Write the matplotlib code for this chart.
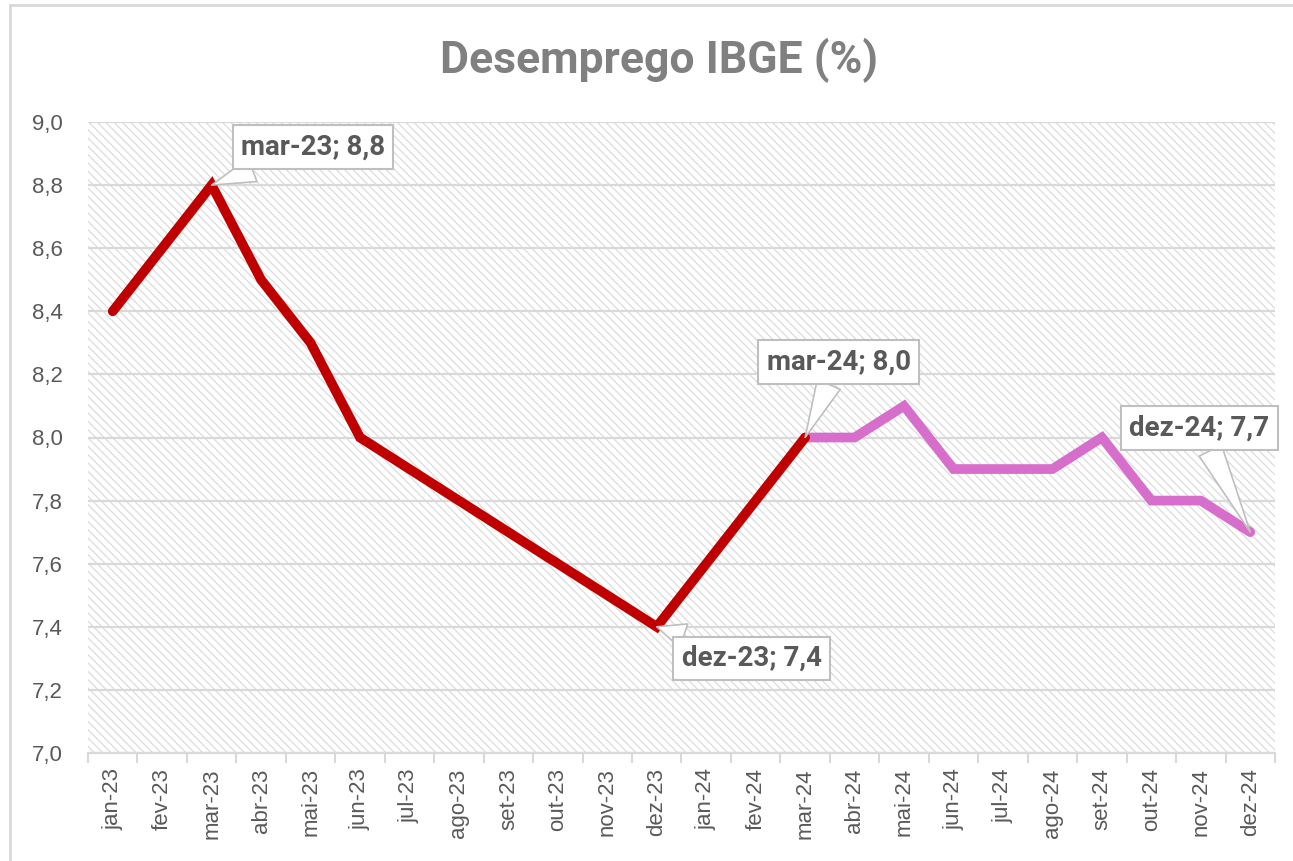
import matplotlib
matplotlib.use("Agg")
import matplotlib.pyplot as plt
from matplotlib.patches import Rectangle
from matplotlib.lines import Line2D

plt.rcParams['font.family'] = ['Liberation Sans', 'DejaVu Sans']
plt.rcParams['hatch.linewidth'] = 0.9

months = ["jan-23", "fev-23", "mar-23", "abr-23", "mai-23", "jun-23", "jul-23", "ago-23",
          "set-23", "out-23", "nov-23", "dez-23", "jan-24", "fev-24", "mar-24", "abr-24",
          "mai-24", "jun-24", "jul-24", "ago-24", "set-24", "out-24", "nov-24", "dez-24"]
values = [8.4, 8.6, 8.8, 8.5, 8.3, 8.0, 7.9, 7.8, 7.7, 7.6, 7.5, 7.4,
          7.6, 7.8, 8.0, 8.0, 8.1, 7.9, 7.9, 7.9, 8.0, 7.8, 7.8, 7.7]
split_idx = 14  # mar-24: red up to here, pink after
yticks = [7.0, 7.2, 7.4, 7.6, 7.8, 8.0, 8.2, 8.4, 8.6, 8.8, 9.0]
callouts = [("mar-23", 4.05, 8.92), ("dez-23", 12.92, 7.30),
            ("mar-24", 14.68, 8.24), ("dez-24", 21.97, 8.03)]

W, H = 1293, 861
fig = plt.figure(figsize=(W / 100, H / 100), dpi=100)
ax = fig.add_axes([88 / W, 1 - 753 / H, (1275 - 88) / W, (753 - 122) / H])

# hatched plot area
ax.add_patch(Rectangle((0, 0), 1, 1, transform=ax.transAxes, facecolor='white',
                       edgecolor='#dcdcdc', hatch='\\\\\\\\', linewidth=0, zorder=0))

x = list(range(len(months)))
red = '#C00000'
pink = '#D86ECC'
ax.plot(x[:split_idx + 1], values[:split_idx + 1], color=red, lw=7, zorder=3,
        solid_joinstyle='miter', solid_capstyle='round')
ax.plot(x[split_idx:], values[split_idx:], color=pink, lw=7, zorder=2,
        solid_joinstyle='miter', solid_capstyle='round')

ax.set_xlim(-0.5, len(months) - 0.5)
ax.set_ylim(7.0, 9.0)
ax.set_yticks(yticks)
ax.set_yticklabels([f"{v:.1f}".replace('.', ',') for v in yticks])
ax.tick_params(axis='y', length=0, pad=18, labelsize=16, labelcolor='#595959')
ax.yaxis.grid(True, color='#d9d9d9', lw=1.6, zorder=1)
ax.set_axisbelow(True)

ax.set_xticks([i - 0.5 for i in range(len(months) + 1)])
ax.set_xticklabels([])
ax.tick_params(axis='x', which='major', length=7, width=1.5, color='#d9d9d9', direction='out')
ax.set_xticks(x, minor=True)
ax.set_xticklabels(months, minor=True, rotation=90)
ax.tick_params(axis='x', which='minor', length=0, pad=11, labelsize=16, labelcolor='#595959')

for s in ['top', 'right', 'left']:
    ax.spines[s].set_visible(False)
ax.spines['bottom'].set_color('#d9d9d9')
ax.spines['bottom'].set_linewidth(1.6)

for lab, tx, ty in callouts:
    i = months.index(lab)
    v = values[i]
    ax.annotate(f"{lab}; {v:.1f}".replace('.', ','), xy=(i, v), xytext=(tx, ty),
                ha='center', va='center', fontsize=20, fontweight='bold', color='#595959',
                family=['Roboto', 'DejaVu Sans'],
                bbox=dict(boxstyle='square,pad=0.3', fc='white', ec='#bfbfbf', lw=1.5),
                arrowprops=dict(arrowstyle='wedge,tail_width=0.9,shrink_factor=0.5',
                                fc='white', ec='#bfbfbf', lw=1.2, shrinkA=0, shrinkB=0),
                zorder=5)

fig.text(0.51, 1 - 60 / H, "Desemprego IBGE (%)", ha='center', va='center',
         fontsize=32, fontweight='bold', color='#808080', family=['Roboto', 'DejaVu Sans'])

# figure border (cropped at right and bottom)
fig.add_artist(Line2D([10 / W, 10 / W], [0, 1 - 5 / H], transform=fig.transFigure,
                      color='#d9d9d9', lw=2))
fig.add_artist(Line2D([10 / W, 1], [1 - 5 / H, 1 - 5 / H], transform=fig.transFigure,
                      color='#d9d9d9', lw=2))

fig.savefig("out.png", dpi=100)
